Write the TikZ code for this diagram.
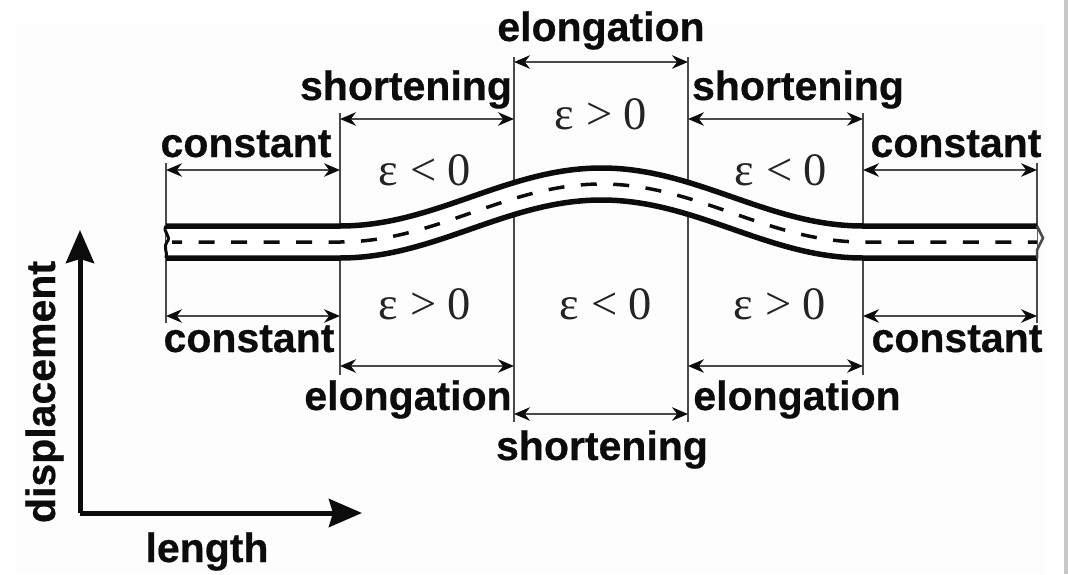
\documentclass[tikz,border=0pt]{standalone}
\usepackage{fontspec}
\setmainfont{Liberation Sans}[BoldFeatures={FakeBold=0.5}]
\newfontfamily\serifeps{Liberation Serif}
\usetikzlibrary{arrows.meta}
\definecolor{ink}{HTML}{0C0C0C}
\definecolor{rule}{HTML}{4A4A4A}
\definecolor{paper}{HTML}{FDFDFD}
\tikzset{
  x=1pt,y=-1pt,
  lab/.style={font=\fontsize{41}{41}\selectfont\bfseries,text=ink,anchor=base,inner sep=0pt,outer sep=0pt},
  eps/.style={font=\serifeps\fontsize{46.5}{46.5}\selectfont,text=ink!90,anchor=base,inner sep=0pt},
  guide/.style={draw=rule,line width=1.8pt},
  span/.style={draw=rule,line width=1.8pt,{Stealth[length=16pt,width=13.5pt,color=ink]}-{Stealth[length=16pt,width=13.5pt,color=ink]}},
  band/.style={draw=ink,line width=5.5pt},
  mid/.style={draw=ink,line width=3.5pt,dash pattern=on 16pt off 16.5pt,dash phase=6pt},
  axisline/.style={draw=ink,line width=5pt,line join=round},
}
\begin{document}
\begin{tikzpicture}
\useasboundingbox (0,0) rectangle (1068,574);
\fill[white] (0,0) rectangle (1068,574);
\fill[paper] (16,24) rectangle (1045,574);
\fill[black!22] (1064,0) rectangle (1068,574);
% guides
\foreach \n/\x/\a/\b in {A/166/163/323,B/340/113/375,C/514/57/422,D/688/57/422,E/863/113/375,F/1037/163/323}{
  \coordinate (\n t) at (\x,\a);
  \coordinate (\n b) at (\x,\b);
  \draw[guide] (\n t) -- (\n b);
}
% span arrows
\coordinate (C1) at (514,62); \coordinate (D1) at (688,62);
\coordinate (B2) at (340,119); \coordinate (C2) at (514,119);
\coordinate (D2) at (688,119); \coordinate (E2) at (863,119);
\coordinate (A3) at (166,170); \coordinate (B3) at (340,170);
\coordinate (E3) at (863,170); \coordinate (F3) at (1037,170);
\coordinate (A4) at (166,316); \coordinate (B4) at (340,316);
\coordinate (E4) at (863,316); \coordinate (F4) at (1037,316);
\coordinate (B5) at (340,366); \coordinate (C5) at (514,366);
\coordinate (D5) at (688,366); \coordinate (E5) at (863,366);
\coordinate (C6) at (514,414); \coordinate (D6) at (688,414);
\draw[span] (C1) -- (D1);
\draw[span] (B2) -- (C2);
\draw[span] (D2) -- (E2);
\draw[span] (A3) -- (B3);
\draw[span] (E3) -- (F3);
\draw[span] (A4) -- (B4);
\draw[span] (E4) -- (F4);
\draw[span] (B5) -- (C5);
\draw[span] (D5) -- (E5);
\draw[span] (C6) -- (D6);
% band
\fill[white] (166,226) -- plot[domain=340:863,samples=90] (\x,{226-29*(1-cos((\x-340)*0.68834))}) -- (1037,226) -- (1037,258) -- plot[domain=863:340,samples=90] (\x,{258-29*(1-cos((\x-340)*0.68834))}) -- (166,258) -- cycle;
\draw[band] (166,226) -- plot[domain=340:863,samples=90] (\x,{226-29*(1-cos((\x-340)*0.68834))}) -- (1037,226);
\draw[band] (166,258) -- plot[domain=340:863,samples=90] (\x,{258-29*(1-cos((\x-340)*0.68834))}) -- (1037,258);
\draw[mid] (172,242) -- plot[domain=340:863,samples=90] (\x,{242-29*(1-cos((\x-340)*0.68834))}) -- (1037,242);
% broken ends
\draw[draw=ink,line width=3pt] (166,226) .. controls (162,232) and (172,236) .. (167,242) .. controls (163,248) and (168,252) .. (166,258);
\draw[draw=rule,line width=2.5pt] (1037,226) -- (1043,238) -- (1037,250) -- (1037,258);
% axes
\coordinate (origin) at (80,513);
\coordinate (ytip) at (80,230);
\coordinate (xtip) at (362,513);
\draw[axisline,-{Stealth[length=33pt,width=28pt,inset=4pt]}] (origin) -- (ytip);
\draw[axisline,-{Stealth[length=33pt,width=28pt,inset=4pt]}] (origin) -- (xtip);
% labels
\node[lab] (l1) at (601,41) {elongation};
\node[lab] (l2) at (406,100) {shortening};
\node[lab] (l3) at (798,100) {shortening};
\node[lab] (l4) at (246,157) {constant};
\node[lab] (l5) at (956,157) {constant};
\node[lab] (l6) at (249,352) {constant};
\node[lab] (l7) at (957,352) {constant};
\node[lab] (l8) at (408,410) {elongation};
\node[lab] (l9) at (797,410) {elongation};
\node[lab] (l10) at (602,460) {shortening};
\node[lab] (l11) at (207,562) {length};
\node[lab,rotate=90] (l12) at (55,392) {displacement};
\node[eps] (e1) at (601,129) {ε > 0};
\node[eps] (e2) at (425,185) {ε < 0};
\node[eps] (e3) at (781,185) {ε < 0};
\node[eps] (e4) at (425,319) {ε > 0};
\node[eps] (e5) at (606,319) {ε < 0};
\node[eps] (e6) at (780,319) {ε > 0};
\end{tikzpicture}
\end{document}
